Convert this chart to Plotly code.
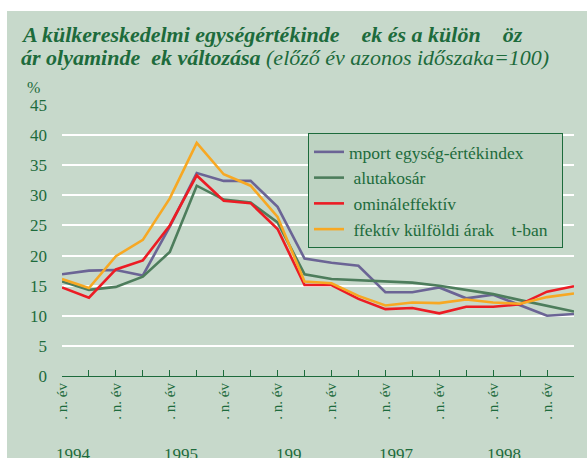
import plotly.graph_objects as go

# quarters 1994 I - 1998 IV
quarters = list(range(20))
quarter_labels = [". n. év" if i % 2 == 0 else "" for i in quarters]
years = ["1994", "1995", "199", "1997", "1998"]

import_index = [16.9, 17.5, 17.6, 16.7, 24.8, 33.7, 32.4, 32.4, 28.1, 19.5,
                18.8, 18.3, 13.9, 13.9, 14.7, 12.9, 13.5, 11.8, 10.0, 10.3]
valutakosar = [15.7, 14.3, 14.8, 16.5, 20.6, 31.6, 29.3, 28.8, 25.5, 16.9,
               16.1, 15.9, 15.8, 15.5, 15.0, 14.3, 13.6, 12.6, 11.6, 10.7]
nominal_eff = [14.7, 13.0, 17.7, 19.2, 25.0, 33.3, 29.1, 28.7, 24.4, 15.1,
               15.1, 12.8, 11.1, 11.3, 10.4, 11.5, 11.5, 11.9, 14.0, 14.9]
effektiv_kulf = [16.1, 14.6, 19.9, 22.6, 29.5, 38.7, 33.5, 31.6, 26.4, 15.7,
                 15.4, 13.3, 11.7, 12.2, 12.1, 12.7, 12.2, 12.0, 13.1, 13.7]

series = [
    ("mport egység-értékindex", import_index, "#6b6495"),
    (" alutakosár", valutakosar, "#4d7d5c"),
    (" omináleffektív", nominal_eff, "#ec1c24"),
    (" ffektív külföldi árak    t-ban\u00a0\u00a0", effektiv_kulf, "#f7a823"),
]

bg = "#c7d9cb"
txt = "#1d6b3c"
serif = "Liberation Serif, Times New Roman, serif"

fig = go.Figure()
for name, vals, col in series:
    fig.add_trace(go.Scatter(
        x=quarters, y=vals, name=name, mode="lines",
        line=dict(color=col, width=2.6),
    ))

# margins in px -> paper coordinates for the outer panel
L, R, T, B = 62, 13, 105, 82
W, H = 587, 458
pw, ph = W - L - R, H - T - B


def px_x(p):
    return (p - L) / pw


def px_y(p):
    return (H - B - p) / ph


fig.add_shape(type="rect", xref="paper", yref="paper", layer="below",
              x0=px_x(7), x1=px_x(W + 5), y0=px_y(H + 5), y1=px_y(11),
              fillcolor=bg, line_width=0)

fig.add_annotation(
    text="<b><i>A külkereskedelmi egységértékinde    ek és a külön    öz</i></b>",
    xref="paper", yref="paper", x=px_x(19), y=px_y(35),
    xanchor="left", yanchor="middle", showarrow=False,
    font=dict(family=serif, size=22, color=txt))
fig.add_annotation(
    text="<b><i>ár olyaminde  ek változása</i></b> <i>(előző év azonos időszaka=100)</i>",
    xref="paper", yref="paper", x=px_x(19), y=px_y(58),
    xanchor="left", yanchor="middle", showarrow=False,
    font=dict(family=serif, size=22, color=txt))
fig.add_annotation(
    text="%", xref="paper", yref="paper", x=px_x(33), y=px_y(87),
    xanchor="center", yanchor="middle", showarrow=False,
    font=dict(family=serif, size=16, color=txt))

for k, yr in enumerate(years):
    fig.add_annotation(
        text=yr, xref="x", yref="paper", x=4 * k + 0.42, y=px_y(454),
        xanchor="center", yanchor="middle", showarrow=False,
        font=dict(family=serif, size=17, color=txt))

fig.update_layout(
    width=W, height=H,
    margin=dict(l=L, r=R, t=T, b=B, pad=0),
    paper_bgcolor="white",
    plot_bgcolor="rgba(0,0,0,0)",
    font=dict(family=serif, size=16, color=txt),
    showlegend=True,
    legend=dict(
        x=px_x(308), y=px_y(133), xanchor="left", yanchor="top",
        bgcolor="#bed3c2", bordercolor=txt, borderwidth=1,
        font=dict(family=serif, size=17.5, color=txt),
        tracegroupgap=0,
    ),
)

fig.update_xaxes(
    range=[0, 19], tickvals=quarters, ticktext=quarter_labels,
    tickangle=-90, ticks="inside", ticklen=6, tickcolor=txt,
    showline=True, linecolor=txt, linewidth=1.2, showgrid=False,
    zeroline=False, tickfont=dict(family=serif, size=15, color=txt),
)
fig.update_yaxes(
    range=[0, 45], tickvals=list(range(0, 46, 5)),
    showgrid=True, gridcolor="white", gridwidth=2.2,
    zeroline=True, zerolinecolor=txt, zerolinewidth=1.2,
    showline=False, ticks="", ticklabelstandoff=14,
    tickfont=dict(family=serif, size=17, color=txt),
)

# page body has a default 8px margin; drop it so the figure fills the window
fig.write_html("out.html", config={"displayModeBar": False},
               post_script="document.body.style.margin='0';")
